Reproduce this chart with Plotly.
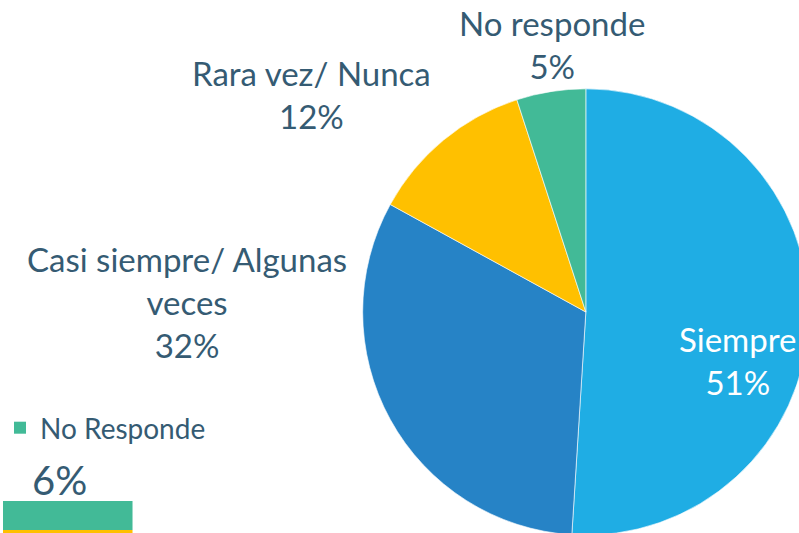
import textwrap
import plotly.graph_objects as go

# ---- data ----
labels = ["Siempre", "Casi siempre/ Algunas veces", "Rara vez/ Nunca", "No responde"]
values = [51, 32, 12, 5]
colors = ["#1FADE4", "#2683C6", "#FFC000", "#42BA97"]

bar_label = "No Responde"
bar_value = [6]
bar_color = "#42BA97"
bar_edge_color = "#FFC000"

TEXT = "#355B73"
FONT = "Lato"

W, H = 811, 537


def px(x):
    return x / W


def py(y):
    return 1 - y / H


fig = go.Figure()

# pie centred at (586, 312) with radius 224 (pixel space of the figure)
cx, cy, r = 585, 312, 224
fig.add_trace(go.Pie(
    labels=labels,
    values=values,
    sort=False,
    direction="clockwise",
    rotation=0,
    marker=dict(colors=colors, line=dict(color="rgba(255,255,255,0.6)", width=1)),
    textinfo="none",
    hoverinfo="label+percent",
    showlegend=False,
    domain=dict(x=[px(cx - r), px(cx + r)], y=[py(cy + r), py(cy - r)]),
))

# bar fragment bottom-left
fig.add_trace(go.Bar(
    x=bar_value, y=[21.5], width=[29], orientation="h",
    name=bar_label, marker=dict(color=bar_color, line=dict(width=0)),
    xaxis="x2", yaxis="y2", showlegend=True, hoverinfo="x+name",
))

fig.update_layout(
    width=W, height=H,
    margin=dict(l=0, r=0, t=0, b=0),
    paper_bgcolor="white", plot_bgcolor="white",
    font=dict(family=FONT, color=TEXT),
    xaxis2=dict(domain=[0, 0.5], range=[0, bar_value[0] * (W * 0.5) / 130],
                visible=False, fixedrange=True),
    yaxis2=dict(domain=[0, 36 / H], range=[0, 36], visible=False, fixedrange=True),
    legend=dict(x=px(-3), y=py(403), xanchor="left", yanchor="top",
                font=dict(size=28, color=TEXT, family=FONT),
                bgcolor="rgba(0,0,0,0)", itemwidth=30),
    shapes=[dict(type="rect", xref="x2", yref="y2", x0=0, x1=bar_value[0],
                 y0=3, y1=7, fillcolor=bar_edge_color, line=dict(width=0))],
)

# slice labels
total = sum(values)
label_pos = [(738, 360), (185, 302), (310, 95), (551, 45)]
for lab, val, (lx, ly), i in zip(labels, values, label_pos, range(len(labels))):
    txt = "<br>".join(textwrap.wrap(lab, 22)) + f"<br>{round(100 * val / total)}%"
    fig.add_annotation(
        x=px(lx), y=py(ly), xref="paper", yref="paper",
        xanchor="center", yanchor="middle",
        text=txt, showarrow=False, align="center",
        font=dict(size=33, color="white" if i == 0 else TEXT, family=FONT),
    )

fig.add_annotation(
    x=px(57), y=py(480), xref="paper", yref="paper",
    xanchor="center", yanchor="middle",
    text=f"{bar_value[0]}%", showarrow=False,
    font=dict(size=40, color=TEXT, family=FONT),
)

fig.write_html(
    "out.html",
    config={"displayModeBar": False},
    post_script="document.body.style.margin='0';document.body.style.overflow='hidden';",
)
